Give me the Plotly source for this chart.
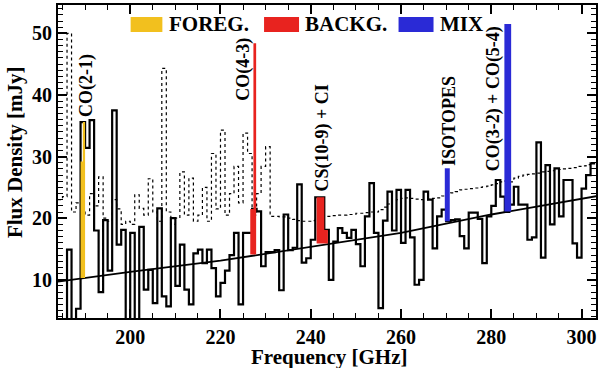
import numpy as np
import plotly.graph_objects as go

# channel grid of the spectrum (GHz)
chan_start = 184.0
chan_width = 1.0

# observed flux per channel (mJy), solid step line
flux = [2, 2, 14.9, 2, 5.3, 35.6, 31.4, 35.9, 18, 8,
        19.7, 11.5, 37.5, 15.7, 18.1, 3, 17.6, 3, 18.6, 8.4,
        11.6, 6.2, 21.6, 7.3, 5.7, 20, 9, 15.7, 8.4, 6,
        14.3, 14.9, 12.7, 14.9, 11.9, 7.3, 9.5, 11.5, 14, 17.6,
        6.0, 17.6, 17.6, 21.5, 21.1, 12.2, 14.5, 14.5, 14.8, 8.3,
        20.6, 14.8, 15.2, 25.5, 12.8, 13.5, 16.5, 23.4, 23.4, 18.1,
        10.0, 16.2, 18.4, 17.6, 16.8, 18.1, 15.8, 12.2, 20.3, 25.7,
        17.6, 5.4, 19.6, 24.3, 18.0, 24.6, 16.0, 24.6, 16.9, 9.2,
        10.0, 24.3, 23.0, 15.1, 20.3, 21.4, 19.5, 19.7, 19.8, 17.1,
        15.1, 20.9, 20.9, 19.9, 12.7, 20.3, 22.0, 26.2, 23.5, 21.0,
        22.2, 25.1, 22.2, 22.2, 16.5, 16.9, 32.3, 13.6, 28.6, 19.0,
        28.1, 20.3, 26.2, 26.2, 15.9, 13.6, 24.8, 27.0, 28.9]

# noise level per channel (mJy), dotted step line
noise = [23, 23.5, 50, 21, 22.5, 21.5, 20.5, 24, 22, 26.7,
         20, 19.5, 23, 21.5, 19, 19.5, 19, 23.8, 21.6, 20.5,
         26.4, 21, 19.5, 44.3, 21, 19, 20, 27.5, 20.5, 26.5,
         19.5, 20.5, 25, 19.5, 30.5, 21.5, 34.3, 20.5, 24, 28.4,
         22.5, 33.8, 30.5, 20.5, 24, 28.4, 31.6, 20.3, 20.3, 20.2,
         20.2, 20, 19.8, 19.6, 19.5, 19.5, 19.6, 19.8, 20, 20.3,
         20.3, 20.4, 20.5, 20.5, 20.6, 20.6, 20.8, 20.8, 20.9, 21,
         21, 21.4, 21.8, 22.3, 22.8, 23.0, 23.2, 23.3, 23.2, 23.1,
         23.0, 23.0, 23.1, 23.2, 23.3, 23.6, 23.8, 24.1, 24.3, 24.6,
         24.7, 24.8, 24.9, 25.0, 25.1, 25.2, 25.4, 25.6, 25.9, 26.0,
         25.9, 26.5, 26.8, 27.0, 27.1, 27.2, 27.3, 27.5, 27.6, 27.7,
         27.8, 27.9, 28.0, 28.1, 28.2, 28.4, 28.5, 28.7, 28.9]

# continuum fit (GHz, mJy)
cont_freq = [184, 200, 220, 240, 260, 280, 303.5]
cont_flux = [9.7, 11.3, 13.1, 15.3, 17.6, 20.6, 23.6]

# identified lines: channel edges, tops and continuum base
foreg_edges, foreg_tops, foreg_base = [189.0, 189.5, 190.0], [29.2, 35.6], 10.3
co43_edges, co43_tops, co43_base = [226.6, 227.3, 227.9], [21.5, 48.4], 14.1
cs_edges, cs_tops, cs_base = [241.3, 243.0, 243.8], [23.4, 18.1], 15.9
iso_edges, iso_tops, iso_base = [269.7, 270.8], [28.1], 19.5
mix_edges, mix_tops, mix_base = [282.9, 284.4], [51.5], 21.1

label_text = ["CO(2-1)", "CO(4-3)", "CS(10-9) + CI", "ISOTOPES", "CO(3-2) + CO(5-4)"]
label_freq = [190.2, 224.9, 242.6, 270.6, 280.4]
label_flux = [41.6, 44.2, 33.0, 35.8, 39.3]

YELLOW = "#f2c01e"
RED = "#e8231f"
BLUE = "#2a2ad6"
SERIF = "Liberation Serif"


def step_poly(edges, tops, base):
    xs, ys = [edges[0]], [base]
    for i, t in enumerate(tops):
        xs += [edges[i], edges[i + 1]]
        ys += [t, t]
    xs.append(edges[-1])
    ys.append(base)
    return xs, ys


edges = chan_start + chan_width * np.arange(len(flux) + 1)

fig = go.Figure()
fig.add_trace(go.Scatter(x=edges, y=noise + [noise[-1]], mode="lines", line_shape="hv",
                         line=dict(color="black", width=1.2, dash="dot")))
fig.add_trace(go.Scatter(x=edges, y=flux + [flux[-1]], mode="lines", line_shape="hv",
                         line=dict(color="black", width=2.2)))
fig.add_trace(go.Scatter(x=cont_freq, y=cont_flux, mode="lines",
                         line=dict(color="black", width=1.8)))

for (e, t, b), col in [((foreg_edges, foreg_tops, foreg_base), YELLOW),
                       ((co43_edges, co43_tops, co43_base), RED),
                       ((cs_edges, cs_tops, cs_base), RED),
                       ((iso_edges, iso_tops, iso_base), BLUE),
                       ((mix_edges, mix_tops, mix_base), BLUE)]:
    xs, ys = step_poly(e, t, b)
    fig.add_trace(go.Scatter(x=xs, y=ys, mode="lines", fill="toself", fillcolor=col,
                             line=dict(width=0, color=col)))

for txt, fx, fy in zip(label_text, label_freq, label_flux):
    fig.add_annotation(x=fx, y=fy, text=txt, textangle=-90, showarrow=False,
                       xanchor="center", yanchor="middle",
                       font=dict(family=SERIF, size=18, color="black", weight="bold"))

# legend boxes
for x0, x1, col, name in [(0.135, 0.194, YELLOW, "FOREG."),
                          (0.383, 0.448, RED, "BACKG."),
                          (0.633, 0.698, BLUE, "MIX")]:
    fig.add_shape(type="rect", xref="paper", yref="paper", x0=x0, x1=x1,
                  y0=0.914, y1=0.962, fillcolor=col, line_width=0)
    fig.add_annotation(xref="paper", yref="paper", x=x1 + 0.008, y=0.938, text=name,
                       showarrow=False, xanchor="left", yanchor="middle",
                       font=dict(family=SERIF, size=21, color="black", weight="bold"))

fig.add_annotation(xref="paper", yref="paper", x=0.504, y=-0.124, text="Frequency [GHz]",
                   showarrow=False, xanchor="center", yanchor="middle",
                   font=dict(family=SERIF, size=21, color="black", weight="bold"))
fig.add_annotation(xref="paper", yref="paper", x=-0.08, y=0.53, text="Flux Density [mJy]",
                   textangle=-90, showarrow=False, xanchor="center", yanchor="middle",
                   font=dict(family=SERIF, size=21, color="black", weight="bold"))

axis_common = dict(showgrid=False, zeroline=False, showline=True, linecolor="black",
                   linewidth=2, mirror="ticks", ticks="inside", tickcolor="black",
                   tickwidth=1.5, ticklen=9,
                   tickfont=dict(family=SERIF, size=20, color="black", weight="bold"))

fig.update_xaxes(range=[184, 303.2], tickvals=[200, 220, 240, 260, 280, 300],
                 minor=dict(dtick=5, tick0=0, ticks="inside", ticklen=5, tickcolor="black",
                            tickwidth=1.2),
                 **axis_common)
fig.update_yaxes(range=[3.8, 54.6], tickvals=[10, 20, 30, 40, 50],
                 minor=dict(dtick=1, tick0=0, ticks="inside", ticklen=5, tickcolor="black",
                            tickwidth=1.2),
                 **axis_common)

fig.update_layout(width=600, height=368, showlegend=False,
                  plot_bgcolor="white", paper_bgcolor="white",
                  margin=dict(l=58, r=2, t=5, b=50))

# drop the default page margin so the figure sits at the window's corner
fig.write_html("out.html", config={"displayModeBar": False},
               post_script="document.body.style.margin='0';document.body.style.overflow='hidden';")
